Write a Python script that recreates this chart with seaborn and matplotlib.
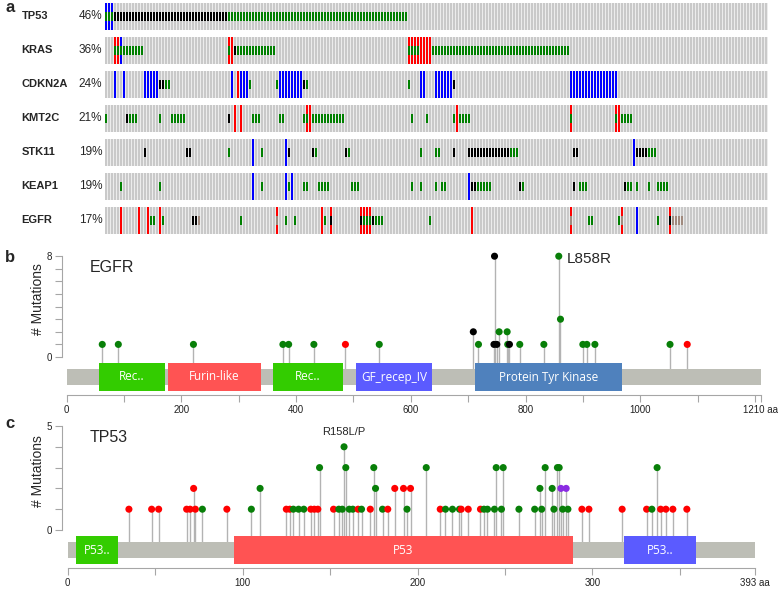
import numpy as np
import pandas as pd
import seaborn as sns
import matplotlib.pyplot as plt

sns.set_style("ticks")
plt.rcParams['font.family'] = ['Liberation Sans', 'DejaVu Sans']

# ---------------- panel a: oncoprint ----------------
genes = ["TP53", "KRAS", "CDKN2A", "KMT2C", "STK11", "KEAP1", "EGFR"]
freqs = ["46%", "36%", "24%", "21%", "19%", "19%", "17%"]
n_samples = 221

# (first column, last column, alteration)
tp53_alt = [(0, 2, "del"), (0, 2, "mis"), (3, 40, "trunc"), (41, 100, "mis")]
kras_alt = [(3, 4, "amp"), (3, 4, "mis"), (5, 5, "del"), (5, 5, "mis"), (6, 12, "mis"),
            (41, 42, "amp"), (41, 41, "mis"), (43, 43, "trunc"), (44, 56, "mis"),
            (101, 108, "amp"), (101, 104, "mis"), (109, 154, "mis")]
cdkn2a_alt = [(3, 3, "del"), (6, 6, "del"), (13, 17, "del"), (18, 19, "trunc"), (20, 21, "mis"),
              (42, 42, "del"), (44, 44, "amp"), (45, 47, "del"), (48, 48, "mis"), (57, 57, "mis"),
              (58, 65, "del"), (66, 66, "trunc"), (67, 67, "mis"), (101, 101, "mis"),
              (105, 106, "del"), (110, 115, "del"), (116, 116, "trunc"), (155, 170, "del")]
kmt2c_alt = [(0, 0, "mis"), (7, 7, "trunc"), (8, 10, "mis"), (18, 18, "mis"), (22, 26, "mis"),
             (41, 41, "trunc"), (43, 43, "amp"), (45, 45, "amp"), (49, 51, "mis"), (58, 59, "mis"),
             (66, 66, "mis"), (67, 68, "amp"), (67, 67, "mis"), (69, 79, "mis"), (102, 102, "mis"),
             (107, 107, "mis"), (116, 116, "mis"), (117, 117, "amp"), (118, 121, "mis"),
             (155, 155, "amp"), (155, 155, "mis"), (170, 171, "amp"), (170, 170, "mis"),
             (172, 175, "mis")]
stk11_alt = [(13, 13, "trunc"), (27, 28, "trunc"), (41, 41, "mis"), (49, 49, "del"), (52, 52, "mis"),
             (60, 60, "del"), (61, 61, "trunc"), (69, 69, "trunc"), (70, 70, "mis"), (80, 80, "trunc"),
             (81, 81, "mis"), (105, 105, "mis"), (110, 111, "mis"), (116, 116, "trunc"),
             (121, 134, "trunc"), (135, 137, "mis"), (156, 157, "trunc"), (176, 176, "del"),
             (177, 180, "trunc"), (181, 183, "mis")]
keap1_alt = [(5, 5, "mis"), (18, 18, "mis"), (49, 49, "del"), (52, 52, "mis"), (60, 60, "del"),
             (61, 61, "mis"), (62, 62, "del"), (66, 67, "mis"), (71, 74, "mis"), (82, 84, "mis"),
             (102, 102, "mis"), (105, 105, "mis"), (110, 110, "mis"), (112, 113, "mis"),
             (121, 121, "del"), (122, 123, "trunc"), (124, 128, "mis"), (138, 138, "trunc"),
             (139, 139, "mis"), (156, 156, "trunc"), (158, 160, "mis"), (173, 173, "trunc"),
             (174, 175, "mis"), (177, 177, "mis"), (181, 181, "mis"), (184, 187, "mis")]
egfr_alt = [(5, 5, "amp"), (11, 11, "amp"), (14, 14, "amp"), (15, 16, "mis"), (18, 18, "amp"),
            (19, 19, "mis"), (29, 30, "trunc"), (31, 31, "inf"), (45, 45, "mis"), (57, 57, "amp"),
            (57, 57, "inf"), (60, 60, "mis"), (63, 63, "mis"), (72, 72, "amp"), (73, 73, "mis"),
            (75, 75, "amp"), (75, 75, "trunc"), (85, 88, "amp"), (85, 85, "trunc"), (86, 88, "mis"),
            (89, 89, "trunc"), (90, 92, "mis"), (108, 108, "mis"), (122, 122, "amp"),
            (155, 155, "amp"), (155, 155, "inf"), (161, 162, "mis"), (171, 171, "mis"),
            (172, 172, "amp"), (172, 172, "inf"), (177, 177, "del"), (184, 184, "mis"),
            (188, 188, "amp"), (188, 188, "trunc"), (189, 192, "inf")]
alterations = [tp53_alt, kras_alt, cdkn2a_alt, kmt2c_alt, stk11_alt, keap1_alt, egfr_alt]

alt_colors = {"amp": "#ff0000", "del": "#0000ff", "mis": "#008000",
              "trunc": "#000000", "inf": "#a08a7e"}

# ---------------- panel b: EGFR lollipop ----------------
egfr_len = 1210
egfr_pos = [62, 90, 221, 377, 387, 431, 486, 545, 709, 718, 745, 746, 750, 754, 768, 769,
            772, 790, 832, 858, 861, 900, 907, 921, 1052, 1082]
egfr_cnt = [1, 1, 1, 1, 1, 1, 1, 1, 2, 1, 1, 8, 1, 2, 2, 1,
            1, 1, 1, 8, 3, 1, 1, 1, 1, 1]
egfr_kind = ["mis", "mis", "mis", "mis", "mis", "mis", "trunc_r", "mis", "trunc", "mis", "trunc",
             "trunc", "trunc", "mis", "mis", "mis", "trunc", "mis", "mis", "mis", "mis", "mis",
             "mis", "mis", "mis", "trunc_r"]
egfr_dom_name = ["Rec..", "Furin-like", "Rec..", "GF_recep_IV", "Protein Tyr Kinase"]
egfr_dom_start = [57, 177, 360, 504, 712]
egfr_dom_end = [171, 338, 482, 637, 968]
egfr_dom_color = ["#33cc00", "#ff5353", "#33cc00", "#5b5bff", "#4f81bd"]

# ---------------- panel c: TP53 lollipop ----------------
tp53_len = 393
tp53_pos = [35, 48, 52, 68, 70, 72, 73, 77, 91, 105, 110, 125, 127, 129, 132, 135, 139, 141,
            143, 144, 152, 155, 157, 158, 159, 161, 163, 166, 168, 173, 175, 176, 180, 183,
            187, 192, 194, 196, 205, 213, 216, 220, 224, 225, 229, 236, 238, 240, 244, 245,
            248, 249, 258, 267, 270, 271, 273, 277, 278, 280, 281, 282, 283, 285, 286, 294,
            298, 317, 331, 334, 337, 339, 342, 346, 354]
tp53_cnt = [1, 1, 1, 1, 1, 2, 1, 1, 1, 1, 2, 1, 1, 1, 1, 1, 1, 1,
            1, 3, 1, 1, 1, 4, 3, 1, 1, 1, 1, 1, 3, 2, 1, 1,
            2, 2, 1, 2, 3, 1, 1, 1, 1, 1, 1, 1, 1, 1, 1, 3,
            1, 3, 1, 1, 2, 1, 3, 2, 1, 3, 3, 2, 1, 2, 1, 1,
            1, 1, 1, 1, 3, 1, 1, 1, 1]
tp53_kind = ["trunc_r", "trunc_r", "trunc_r", "trunc_r", "trunc_r", "trunc_r", "trunc_r", "mis",
             "trunc_r", "mis", "mis", "trunc_r", "trunc_r", "mis", "mis", "mis", "trunc_r",
             "trunc_r", "trunc_r", "mis", "trunc_r", "mis", "mis", "mis", "mis", "mis", "mis",
             "trunc_r", "mis", "trunc_r", "mis", "mis", "mis", "trunc_r", "trunc_r", "trunc_r",
             "mis", "trunc_r", "mis", "trunc_r", "mis", "mis", "mis", "trunc_r", "trunc_r",
             "trunc_r", "mis", "mis", "mis", "mis", "mis", "mis", "mis", "mis", "mis", "mis",
             "mis", "mis", "mis", "mis", "mis", "multi", "mis", "multi", "mis", "trunc_r",
             "trunc_r", "trunc_r", "trunc_r", "mis", "mis", "trunc_r", "trunc_r", "trunc_r",
             "trunc_r"]
tp53_dom_name = ["P53..", "P53", "P53.."]
tp53_dom_start = [5, 95, 318]
tp53_dom_end = [29, 289, 359]
tp53_dom_color = ["#33cc00", "#ff5353", "#5b5bff"]

head_colors = {"mis": "#087f08", "trunc": "#000000", "trunc_r": "#ff0000", "multi": "#8a2be2"}

# ---------------- drawing ----------------
W, H = 780, 590
fig = plt.figure(figsize=(W / 100, H / 100), dpi=100)


def px_axes(x0, y0, x1, y1):
    return fig.add_axes([x0 / W, 1 - y1 / H, (x1 - x0) / W, (y1 - y0) / H])


ax_a = px_axes(105, 2.7, 768, 234)
cols = np.arange(n_samples)
cw = 2 / 3
for i, gene in enumerate(genes):
    ax_a.barh(i, n_samples, left=0, height=0.8, color="#ececec", linewidth=0)
    ax_a.bar(cols, 0.8, bottom=i - 0.4, width=cw, align="edge", color="#c9c9c9", linewidth=0)
    runs = alterations[i]
    for first, last, kind in runs:
        if kind in ("amp", "del"):
            xs = np.arange(first, last + 1)
            ax_a.bar(xs, 0.8, bottom=i - 0.4, width=cw, align="edge",
                     color=alt_colors[kind], linewidth=0)
    for first, last, kind in runs:
        if kind not in ("amp", "del"):
            xs = np.arange(first, last + 1)
            ax_a.bar(xs, 0.27, bottom=i - 0.135, width=cw, align="edge",
                     color=alt_colors[kind], linewidth=0)
    ax_a.text(-0.126, i, gene, transform=ax_a.get_yaxis_transform(), ha="left", va="center",
              fontsize=8, fontweight="bold")
    ax_a.text(-0.004, i, freqs[i], transform=ax_a.get_yaxis_transform(), ha="right", va="center",
              fontsize=8.5)
ax_a.set_xlim(0, n_samples)
ax_a.set_ylim(6.4, -0.4)
ax_a.axis("off")


def lollipop(top, bottom, zero_px, y_px, x0_px, aa_px, length, ymax, pos, cnt, kind,
             dom_name, dom_start, dom_end, dom_color, tick_step, label_step, gene, title_px):
    ax = px_axes(40, top, 775, bottom)
    ax.set_xlim((40 - x0_px) / aa_px, (775 - x0_px) / aa_px)
    ax.set_ylim((zero_px - bottom) / y_px, (zero_px - top) / y_px)

    bar_c = -20 / y_px
    ax.barh(bar_c, length, left=0, height=16 / y_px, color="#bdbeb6", linewidth=0, zorder=2)
    widths = [e - s for s, e in zip(dom_start, dom_end)]
    ax.barh([bar_c] * len(dom_start), widths, left=dom_start, height=28 / y_px,
            color=dom_color, linewidth=0, zorder=3)
    for name, s, e in zip(dom_name, dom_start, dom_end):
        ax.text((s + e) / 2, bar_c, name, color="white", ha="center", va="center",
                fontsize=8.5, family=["Open Sans", "DejaVu Sans"], zorder=4)

    ax.vlines(pos, -12 / y_px, cnt, color="#b3b3b3", linewidth=1, zorder=1)
    df = pd.DataFrame({"pos": pos, "cnt": cnt, "kind": kind})
    sns.scatterplot(data=df, x="pos", y="cnt", hue="kind", palette=head_colors, s=26,
                    linewidth=0, legend=False, ax=ax, zorder=5, clip_on=False)

    ax.spines[["top", "right"]].set_visible(False)
    ax.spines["left"].set_position(("data", (61.7 - x0_px) / aa_px))
    ax.spines["left"].set_bounds(0, ymax)
    ax.spines["bottom"].set_position(("data", -38 / y_px))
    ax.spines["bottom"].set_bounds(0, length)
    for sp in ("left", "bottom"):
        ax.spines[sp].set_color("#a6a6a6")

    ax.set_yticks(range(ymax + 1))
    ax.set_yticklabels(["0"] + [""] * (ymax - 1) + [str(ymax)])
    xt = list(range(0, length, tick_step)) + [length]
    xl = [str(t) if (t % label_step == 0 and t + label_step / 2 < length) else ""
          for t in xt[:-1]] + [f"{length} aa"]
    ax.set_xticks(xt)
    ax.set_xticklabels(xl)
    ax.tick_params(axis="both", color="#a6a6a6", labelsize=7, labelcolor="#222222")
    ax.tick_params(axis="y", length=5, pad=2)
    ax.tick_params(axis="x", length=5, pad=2)
    ax.set_xlabel("")
    ax.set_ylabel("")
    ax.text((38 - x0_px) / aa_px, ymax * 0.57, "# Mutations", rotation=90, ha="center",
            va="center", fontsize=10)
    ax.text((90 - x0_px) / aa_px, (zero_px - title_px) / y_px, gene,
            ha="left", va="center", fontsize=11.5)
    return ax


ax_b = lollipop(245, 420, 357, 12.6, 66.7, 0.5735, egfr_len, 8, egfr_pos, egfr_cnt, egfr_kind,
                egfr_dom_name, egfr_dom_start, egfr_dom_end, egfr_dom_color, 100, 200,
                "EGFR", 268)
ax_b.text(858 + 14, 7.75, "L858R", ha="left", va="center", fontsize=11)

ax_c = lollipop(418, 590, 530, 20.8, 67.7, 1.749, tp53_len, 5, tp53_pos, tp53_cnt, tp53_kind,
                tp53_dom_name, tp53_dom_start, tp53_dom_end, tp53_dom_color, 50, 100,
                "TP53", 437)
ax_c.text(158, 4.45, "R158L/P", ha="center", va="bottom", fontsize=8)

fig.text(5 / W, 1 - 8 / H, "a", fontsize=12, fontweight="bold", va="center")
fig.text(5 / W, 1 - 257 / H, "b", fontsize=12, fontweight="bold", va="center")
fig.text(5 / W, 1 - 423 / H, "c", fontsize=12, fontweight="bold", va="center")

fig.savefig("out.png", dpi=100)
